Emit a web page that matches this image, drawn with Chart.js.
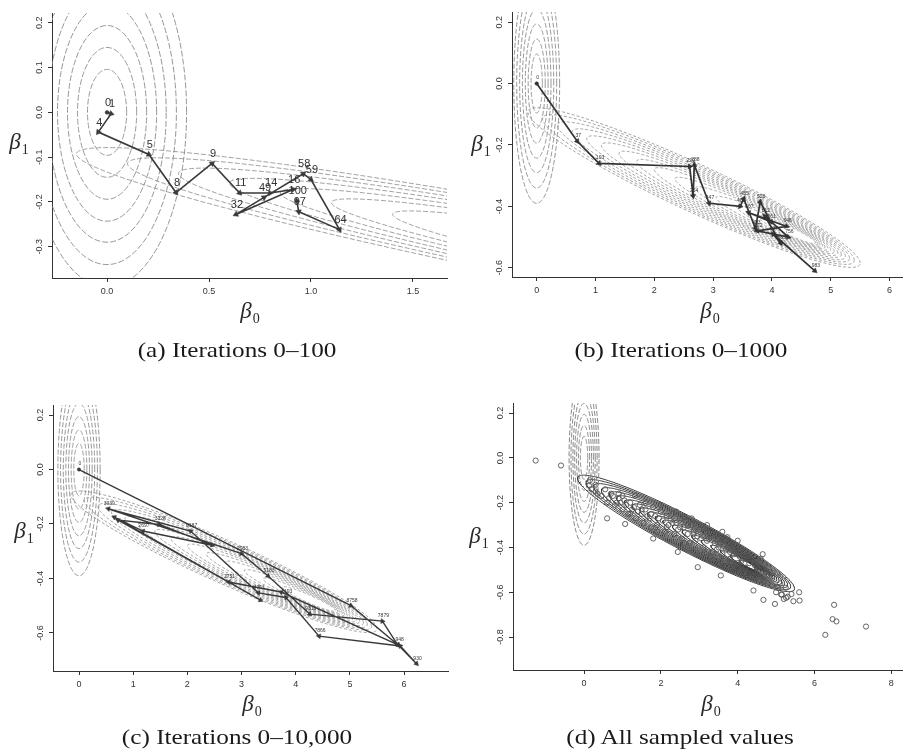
<!DOCTYPE html>
<html><head><meta charset="utf-8">
<script src="https://cdn.jsdelivr.net/npm/chart.js@4.4.1/dist/chart.umd.min.js"></script>
<style>
html,body{margin:0;padding:0;background:#fff;}
body{width:907px;height:753px;position:relative;overflow:hidden;}
canvas{position:absolute;}
.cap{position:absolute;font-family:"Liberation Serif","Times New Roman",serif;font-size:21px;line-height:1;color:#1a1a1a;white-space:nowrap;transform:translateX(-50%) scaleX(1.2);}
.lab{position:absolute;font-family:"Liberation Serif","DejaVu Serif",serif;font-style:italic;font-size:23px;line-height:1;color:#2a2a2a;white-space:nowrap;transform:translate(-50%,-50%);}
.lab sub{font-style:normal;font-size:14px;vertical-align:-5px;margin-left:1px;}
</style></head><body>
<canvas id="ca" width="453" height="330" style="left:0px;top:0px"></canvas>
<canvas id="cb" width="454" height="330" style="left:453px;top:0px"></canvas>
<canvas id="cc" width="453" height="340" style="left:0px;top:390px"></canvas>
<canvas id="cd" width="454" height="340" style="left:453px;top:390px"></canvas>

<div class="lab" style="left:250px;top:312px">β<sub>0</sub></div>
<div class="lab" style="left:19px;top:143px">β<sub>1</sub></div>
<div class="lab" style="left:710px;top:312px">β<sub>0</sub></div>
<div class="lab" style="left:481px;top:145px">β<sub>1</sub></div>
<div class="lab" style="left:252px;top:705px">β<sub>0</sub></div>
<div class="lab" style="left:24px;top:532px">β<sub>1</sub></div>
<div class="lab" style="left:711px;top:705px">β<sub>0</sub></div>
<div class="lab" style="left:479px;top:537px">β<sub>1</sub></div>

<div class="cap" style="left:237px;top:340px">(a) Iterations 0–100</div>
<div class="cap" style="left:681px;top:340px">(b) Iterations 0–1000</div>
<div class="cap" style="left:237px;top:727px">(c) Iterations 0–10,000</div>
<div class="cap" style="left:680px;top:727px">(d) All sampled values</div>

<script>
// ---------------- data ----------------
// Panel (a): chain, iterations 0-100
const aLabels = ["0","1","4","5","8","9","11","14","16","32","49","58","59","64","97","100"];
const aBeta0  = [0, 0.02, -0.043, 0.205, 0.338, 0.515, 0.65, 0.80, 0.913, 0.632, 0.77, 0.962, 1.00, 1.14, 0.94, 0.93];
const aBeta1  = [0, -0.003, -0.044, -0.094, -0.179, -0.114, -0.18, -0.18, -0.172, -0.228, -0.19, -0.137, -0.15, -0.262, -0.222, -0.197];

// Panel (b): chain, iterations 0-1000
const bLabels = ["0","37","103","229","264","288","347","402","455","493","528","561","607","648","702","756","812","863","927","983"];
const bBeta0  = [0, 0.69, 1.06, 2.60, 2.66, 2.68, 2.93, 3.46, 3.52, 3.72, 3.80, 3.98, 3.60, 4.25, 3.75, 4.28, 3.88, 4.15, 4.02, 4.73];
const bBeta1  = [0, -0.188, -0.26, -0.27, -0.366, -0.265, -0.39, -0.40, -0.375, -0.472, -0.385, -0.45, -0.42, -0.465, -0.48, -0.50, -0.432, -0.52, -0.49, -0.61];

// Panel (c): chain, iterations 0-10,000
const cLabels = ["0","8758","948","930","","7866","1193","4751","6187","3939","2953","5183","9313","7879","","","2751","","3328","","2697","",""];
const cBeta0  = [0, 5.02, 5.90, 6.23, 5.93, 4.43, 3.82, 3.31, 2.06, 0.54, 3.00, 3.49, 4.26, 5.60, 5.88, 3.73, 2.76, 0.72, 1.48, 2.46, 1.18, 0.65, 3.35];
const cBeta1  = [0, -0.50, -0.646, -0.713, -0.648, -0.612, -0.47, -0.453, -0.226, -0.144, -0.309, -0.391, -0.531, -0.557, -0.643, -0.45, -0.413, -0.186, -0.202, -0.278, -0.226, -0.175, -0.48];

// Panel (d): sampled values
const dBeta0 = [-1.26,-0.60,0.13,0.30,0.60,1.07,1.33,1.80,2.44,2.61,2.96,3.56,3.73,4.41,4.65,4.67,4.97,5.13,5.26,5.40,5.61,6.28,6.47,6.51,6.57,7.34,
  0.45,0.60,0.70,0.80,0.90,1.00,1.05,1.15,1.20,1.30,1.35,1.45,1.50,1.55,1.60,1.70,1.75,1.80,1.85,1.90,2.00,2.05,2.10,2.15,2.20,2.30,2.35,2.40,2.45,2.50,
  2.55,2.60,2.65,2.70,2.75,2.80,2.85,2.90,3.00,3.05,3.10,3.15,3.20,3.30,3.35,3.40,3.45,3.50,3.60,3.65,3.70,3.80,3.85,3.90,4.00,4.05,4.15,4.20,4.30,4.40,
  4.50,4.60,4.70,4.80,4.90,5.00,5.05,5.15,5.20,5.30,
  0.55,0.65,0.75,0.85,0.95,1.10,1.25,1.40,1.65,1.95,2.25,2.50,2.70,2.95,3.25,3.55,3.75,3.95,4.10,4.25,4.45,4.55,4.75,1.00,1.60,2.00,2.40,2.80,3.20,3.60,
  4.00,1.20,1.90,2.60,3.30,3.90,4.35,0.30,0.35,0.20,0.15,4.60,4.90,5.10,5.25,5.45,5.60,4.20,3.70,1.75,2.15,2.85,3.45,4.05,0.90,1.50,2.30,3.10,3.80,4.45];
const dBeta1 = [-0.012,-0.034,-0.124,-0.15,-0.27,-0.295,-0.168,-0.36,-0.42,-0.265,-0.488,-0.525,-0.354,-0.592,-0.43,-0.634,-0.652,-0.61,-0.625,-0.608,-0.637,-0.79,-0.72,-0.656,-0.73,-0.753,
  -0.17,-0.20,-0.16,-0.21,-0.18,-0.23,-0.19,-0.25,-0.20,-0.22,-0.27,-0.21,-0.25,-0.29,-0.23,-0.27,-0.31,-0.22,-0.26,-0.30,-0.24,-0.28,-0.33,-0.26,-0.30,-0.25,-0.34,-0.29,-0.32,-0.27,
  -0.36,-0.31,-0.28,-0.34,-0.38,-0.30,-0.33,-0.37,-0.32,-0.36,-0.40,-0.33,-0.37,-0.35,-0.42,-0.38,-0.34,-0.40,-0.43,-0.37,-0.41,-0.45,-0.39,-0.43,-0.47,-0.42,-0.45,-0.49,-0.47,-0.51,
  -0.49,-0.53,-0.55,-0.52,-0.57,-0.60,-0.58,-0.61,-0.63,-0.62,
  -0.14,-0.18,-0.17,-0.20,-0.20,-0.21,-0.23,-0.24,-0.26,-0.27,-0.28,-0.31,-0.30,-0.35,-0.36,-0.38,-0.40,-0.42,-0.46,-0.45,-0.47,-0.50,-0.51,-0.17,-0.20,-0.21,-0.24,-0.27,-0.30,-0.33,
  -0.37,-0.25,-0.33,-0.38,-0.44,-0.48,-0.53,-0.12,-0.16,-0.14,-0.10,-0.45,-0.53,-0.56,-0.58,-0.64,-0.60,-0.42,-0.36,-0.25,-0.31,-0.34,-0.41,-0.44,-0.16,-0.23,-0.29,-0.35,-0.42,-0.48];

// Contours: prior rings (radius) and likelihood ellipses (left tip, right tip, half-thickness)
const priorRadii = [0.096, 0.145, 0.194, 0.243, 0.29, 0.34, 0.39];
const postLeft   = [-0.15, 0.10, 0.35, 0.60, 0.85, 1.10, 1.40, 1.70, 2.00, 2.35, 2.70, 3.05, 3.40, 3.75];
const postRight  = [5.50, 5.40, 5.32, 5.25, 5.18, 5.12, 5.06, 5.00, 4.95, 4.90, 4.86, 4.82, 4.78, 4.74];
const postHalf   = [0.085, 0.079, 0.073, 0.067, 0.061, 0.055, 0.050, 0.045, 0.040, 0.035, 0.030, 0.025, 0.020, 0.015];
// Panel (d) contours (denser set)
const dPostLeft  = [-0.17, 0.05, 0.25, 0.45, 0.65, 0.85, 1.05, 1.25, 1.45, 1.65, 1.85, 2.05, 2.30, 2.55, 2.80, 3.05, 3.30, 3.55, 3.80, 4.05];
const dPostRight = [5.48, 5.38, 5.30, 5.22, 5.15, 5.08, 5.02, 4.97, 4.92, 4.88, 4.84, 4.80, 4.76, 4.72, 4.68, 4.64, 4.60, 4.56, 4.52, 4.48];
const dPostHalf  = [0.085, 0.080, 0.076, 0.072, 0.068, 0.064, 0.060, 0.056, 0.052, 0.048, 0.044, 0.040, 0.036, 0.032, 0.028, 0.024, 0.020, 0.017, 0.014, 0.011];
const postSlope = -0.087, postRefB0 = 2.0, postRefB1 = -0.28;

// ---------------- helpers ----------------
function ellipse(cx, cy, a, b, shear, n) {
  const pts = [];
  for (let k = 0; k <= n; k++) {
    const t = 2 * Math.PI * k / n;
    pts.push({x: cx + a * Math.cos(t), y: cy + shear * a * Math.cos(t) + b * Math.sin(t)});
  }
  return pts;
}
function priorSets(color, dash) {
  return priorRadii.map(r => ({type:'scatter', showLine:true, data: ellipse(0, 0, r, r, 0, 200),
    borderColor: color, borderWidth: 0.9, borderDash: dash, pointRadius: 0, tension: 0}));
}
function postSets(lefts, rights, halves, color, dash, width) {
  return lefts.map((L, i) => {
    const R = rights[i];
    const cx = (L + R) / 2, a = (R - L) / 2;
    const cy = postRefB1 + postSlope * (cx - postRefB0);
    return {type:'scatter', showLine:true, data: ellipse(cx, cy, a, halves[i], postSlope, 300),
      borderColor: color, borderWidth: width, borderDash: dash, pointRadius: 0, tension: 0};
  });
}
function pairs(xs, ys) { return xs.map((x, i) => ({x, y: ys[i]})); }
function arrowRot(ctx) {
  const i = ctx.dataIndex, d = ctx.dataset.data;
  if (i === 0) return 0;
  const xs = ctx.chart.scales.x, ys = ctx.chart.scales.y;
  const dx = xs.getPixelForValue(d[i].x) - xs.getPixelForValue(d[i-1].x);
  const dy = ys.getPixelForValue(d[i].y) - ys.getPixelForValue(d[i-1].y);
  return Math.atan2(dx, -dy) * 180 / Math.PI;
}
function chainSet(xs, ys, labels, color, width, rad, font, dy) {
  return {type:'scatter', showLine:true, data: pairs(xs, ys), borderColor: color, borderWidth: width,
    pointStyle: c => c.dataIndex === 0 ? 'circle' : 'triangle', pointRotation: arrowRot,
    pointRadius: c => c.dataIndex === 0 ? rad * 0.6 : rad, pointBackgroundColor: color, pointBorderColor: color, pointBorderWidth: 0.5,
    tension: 0, pointLabels: labels, labelFont: font, labelColor: '#333', labelDy: dy};
}
const pointLabelPlugin = {
  id: 'ptlabels',
  afterDatasetsDraw(chart) {
    const ctx = chart.ctx;
    chart.data.datasets.forEach((ds, i) => {
      if (!ds.pointLabels) return;
      const meta = chart.getDatasetMeta(i);
      ctx.save();
      ctx.font = ds.labelFont; ctx.fillStyle = ds.labelColor;
      ctx.textAlign = 'center'; ctx.textBaseline = 'bottom';
      meta.data.forEach((el, j) => { const t = ds.pointLabels[j]; if (t) ctx.fillText(t, el.x + 1, el.y - ds.labelDy); });
      ctx.restore();
    });
  }
};
const tickFont = {family: '"Liberation Sans", Arial, sans-serif', size: 9};
function xScale(min, max, step, dec, h) {
  return {type:'linear', min, max,
    ticks:{stepSize: step, includeBounds:false, font: tickFont, color:'#333', padding: 4, maxRotation:0,
      callback: v => Number(v).toFixed(dec)},
    grid:{display:true, drawOnChartArea:false, drawTicks:true, tickLength:4, color:'#333'},
    border:{display:true, color:'#333', width:1},
    afterFit(s){ s.height = h; }};
}
function yScale(min, max, step, dec, w) {
  return {type:'linear', min, max,
    ticks:{stepSize: step, includeBounds:false, font: tickFont, color:'#333', padding: 1,
      minRotation:90, maxRotation:90, crossAlign:'center',
      callback: v => Number(v).toFixed(dec)},
    grid:{display:true, drawOnChartArea:false, drawTicks:true, tickLength:4, color:'#333'},
    border:{display:true, color:'#333', width:1},
    afterFit(s){ s.width = w; }};
}
function makeChart(id, datasets, xs, ys, padTop, padRight) {
  return new Chart(document.getElementById(id), {
    type: 'scatter',
    data: {datasets},
    options: {responsive:false, animation:false, events:[], devicePixelRatio:1,
      layout:{padding:{top:padTop, right:padRight, left:0, bottom:0}},
      plugins:{legend:{display:false}, tooltip:{enabled:false}},
      scales:{x: xs, y: ys}},
    plugins: [pointLabelPlugin]
  });
}

const contourGray = '#8a8a8a';
makeChart('ca',
  [chainSet(aBeta0, aBeta1, aLabels, '#3a3a3a', 1.6, 3.2, '11px "Liberation Sans", Arial, sans-serif', 4)]
    .concat(priorSets(contourGray, [6,2]), postSets(postLeft, postRight, postHalf, contourGray, [5,2], 0.8)),
  xScale(-0.27, 1.667, 0.5, 1, 52), yScale(-0.37, 0.222, 0.1, 1, 52), 13, 6);

makeChart('cb',
  [chainSet(bBeta0, bBeta1, bLabels, '#333', 1.7, 3, '5px "Liberation Sans", Arial, sans-serif', 3)]
    .concat(priorSets(contourGray, [5,2]), postSets(postLeft, postRight, postHalf, contourGray, [3,2], 0.8)),
  xScale(-0.42, 6.22, 1, 0, 53), yScale(-0.63, 0.233, 0.2, 1, 59), 12, 1);

makeChart('cc',
  [chainSet(cBeta0, cBeta1, cLabels, '#3a3a3a', 1.4, 2.8, '5px "Liberation Sans", Arial, sans-serif', 3)]
    .concat(priorSets(contourGray, [5,2]), postSets(postLeft, postRight, postHalf, contourGray, [3,2], 0.8)),
  xScale(-0.48, 6.82, 1, 0, 59), yScale(-0.74, 0.237, 0.2, 1, 53), 15, 1);

makeChart('cd',
  [{type:'scatter', data: pairs(dBeta0, dBeta1), pointRadius: 2.6, pointStyle:'circle',
     pointBackgroundColor:'rgba(0,0,0,0)', pointBorderColor:'#555', pointBorderWidth:0.9, showLine:false}]
    .concat(priorSets('#777', [5,2]), postSets(dPostLeft, dPostRight, dPostHalf, '#353535', [], 1.0)),
  xScale(-1.85, 8.28, 2, 0, 60), yScale(-0.947, 0.245, 0.2, 1, 60), 13, 1);
</script>
</body></html>
